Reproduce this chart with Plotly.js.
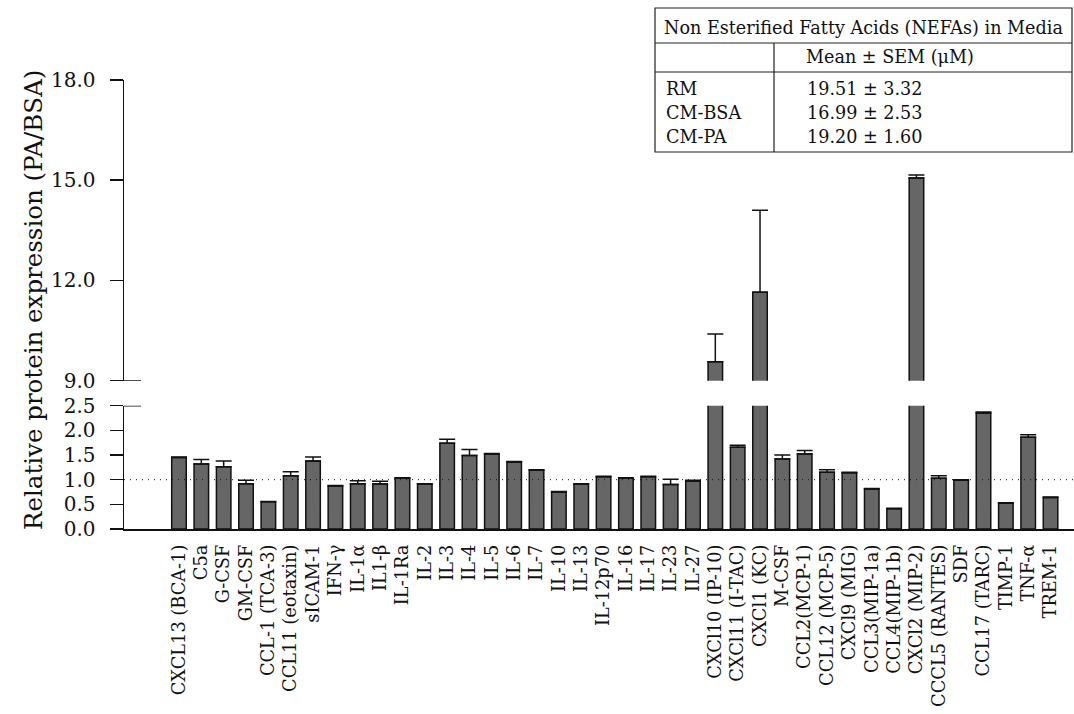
<!DOCTYPE html>
<html><head><meta charset="utf-8">
<script src="https://cdn.plot.ly/plotly-3.0.1.min.js"></script>
<style>html,body{margin:0;padding:0;background:#fff}#chart{width:1074px;height:714px}</style>
</head><body><div id="chart"></div>
<script>
const categories = ['CXCL13 (BCA-1)','C5a','G-CSF','GM-CSF','CCL-1 (TCA-3)','CCL11 (eotaxin)','sICAM-1','IFN-γ','IL-1α','IL1-β','IL-1Ra','IL-2','IL-3','IL-4','IL-5','IL-6','IL-7','IL-10','IL-13','IL-12p70','IL-16','IL-17','IL-23','IL-27','CXCl10 (IP-10)','CXCl11 (I-TAC)','CXCl1 (KC)','M-CSF','CCL2(MCP-1)','CCL12 (MCP-5)','CXCl9 (MIG)','CCL3(MIP-1a)','CCL4(MIP-1b)','CXCl2 (MIP-2)','CCCL5 (RANTES)','SDF','CCL17 (TARC)','TIMP-1','TNF-α','TREM-1'];
const values = [1.45,1.32,1.26,0.92,0.55,1.08,1.38,0.87,0.92,0.91,1.03,0.91,1.74,1.49,1.52,1.36,1.19,0.75,0.91,1.06,1.03,1.06,0.90,0.97,9.57,1.66,11.65,1.42,1.52,1.15,1.14,0.81,0.41,15.07,1.03,0.99,2.35,0.52,1.86,0.64];
const errors = [0.01,0.09,0.12,0.07,0.01,0.08,0.08,0.01,0.06,0.06,0.01,0.01,0.08,0.12,0.01,0.01,0.01,0.01,0.01,0.01,0.01,0.01,0.11,0.02,0.83,0.04,2.45,0.08,0.07,0.05,0.01,0.01,0.01,0.09,0.05,0.01,0.02,0.01,0.05,0.01];
const lowerTicks = [0, 0.5, 1, 1.5, 2, 2.5];
const upperTicks = [9, 12, 15, 18];
const lowerRange = [0, 2.5];
const upperRange = [9, 18];
const referenceLevel = 1;
const yTitle = 'Relative protein expression (PA/BSA)';
const tableTitle = 'Non Esterified Fatty Acids (NEFAs) in Media';
const tableHeader = 'Mean ± SEM (μM)';
const tableGroups = ['RM', 'CM-BSA', 'CM-PA'];
const tableValues = ['19.51 ± 3.32', '16.99 ± 2.53', '19.20 ± 1.60'];

const FONT = 'DejaVu Serif, Georgia, serif';
const INK = '#111';
const TXT = '#111';
// pixel -> paper helpers (plot area: x 124..1074, y 80..529)
const L = 124, R = 1074, T = 80, B = 529;
const fx = p => (p - L) / (R - L);
const fy = p => (B - p) / (B - T);

const zeros = errors.map(() => 0);
const barCommon = {
  type: 'bar', x: categories, y: values, width: 0.65,
  marker: {color: '#666666', line: {color: INK, width: 1.5}},
  error_y: {type: 'data', symmetric: false, array: errors, arrayminus: zeros,
            color: INK, thickness: 1.5, width: 8},
  hoverinfo: 'x+y', showlegend: false
};
const traces = [
  Object.assign({}, barCommon, {xaxis: 'x', yaxis: 'y'}),
  Object.assign({}, barCommon, {xaxis: 'x', yaxis: 'y2'})
];

const axisStyle = {
  showline: true, linecolor: INK, linewidth: 1.5,
  ticks: 'outside', ticklen: 13, tickwidth: 1.5, tickcolor: INK,
  showgrid: false, zeroline: false, tickformat: '.1f',
  tickfont: {family: FONT, size: 20, color: TXT}, ticklabelstandoff: 10,
  fixedrange: true
};

const shapes = [
  {type: 'line', xref: 'paper', x0: 0, x1: 1, yref: 'y', y0: referenceLevel, y1: referenceLevel,
   line: {color: INK, width: 1, dash: '1px,5px'}, layer: 'above'},
  {type: 'line', xref: 'paper', x0: 0, x1: fx(141), yref: 'y2', y0: upperRange[0], y1: upperRange[0],
   line: {color: INK, width: 1.5}},
  {type: 'line', xref: 'paper', x0: 0, x1: fx(141), yref: 'y', y0: lowerRange[1], y1: lowerRange[1],
   line: {color: INK, width: 1.5}},
  // table frame
  {type: 'rect', xref: 'paper', yref: 'paper', x0: fx(655), x1: fx(1072), y0: fy(152), y1: fy(8),
   line: {color: '#222', width: 1.2}},
  {type: 'line', xref: 'paper', yref: 'paper', x0: fx(655), x1: fx(1072), y0: fy(43), y1: fy(43),
   line: {color: '#222', width: 1.2}},
  {type: 'line', xref: 'paper', yref: 'paper', x0: fx(655), x1: fx(1072), y0: fy(72), y1: fy(72),
   line: {color: '#222', width: 1.2}},
  {type: 'line', xref: 'paper', yref: 'paper', x0: fx(774), x1: fx(774), y0: fy(43), y1: fy(152),
   line: {color: '#222', width: 1.2}}
];

const tfont = {family: FONT, size: 17.6, color: TXT};
const annotations = [
  {text: yTitle, xref: 'paper', yref: 'paper', x: fx(33), y: fy(300), textangle: -90,
   showarrow: false, xanchor: 'center', yanchor: 'middle', font: {family: FONT, size: 24.5, color: TXT}},
  {text: tableTitle, xref: 'paper', yref: 'paper', x: fx(662), y: fy(27.5), showarrow: false,
   xanchor: 'left', yanchor: 'middle', font: tfont},
  {text: tableHeader, xref: 'paper', yref: 'paper', x: fx(890), y: fy(57), showarrow: false,
   xanchor: 'center', yanchor: 'middle', font: tfont}
];
const rowY = [89, 113, 136.5];
tableGroups.forEach((g, i) => {
  annotations.push({text: g, xref: 'paper', yref: 'paper', x: fx(664), y: fy(rowY[i]), showarrow: false,
    xanchor: 'left', yanchor: 'middle', font: tfont});
  annotations.push({text: tableValues[i], xref: 'paper', yref: 'paper', x: fx(864), y: fy(rowY[i]), showarrow: false,
    xanchor: 'center', yanchor: 'middle', font: tfont});
});

const layout = {
  width: 1074, height: 714,
  margin: {l: L, r: 1074 - R, t: T, b: 714 - B, pad: 0},
  paper_bgcolor: '#fff', plot_bgcolor: 'rgba(0,0,0,0)',
  font: {family: FONT, color: TXT},
  bargap: 0.35,
  xaxis: {type: 'category', range: [-2.46, 40.05], anchor: 'y', showline: true, linecolor: INK, linewidth: 1.5,
          ticks: '', tickangle: -90, tickfont: {family: FONT, size: 17.8, color: TXT},
          ticklabelstandoff: 7, showgrid: false, zeroline: false, fixedrange: true},
  yaxis: Object.assign({}, axisStyle, {domain: [0, fy(405.7)], range: lowerRange, tickvals: lowerTicks, anchor: 'x'}),
  yaxis2: Object.assign({}, axisStyle, {domain: [fy(380.7), 1], range: upperRange, tickvals: upperTicks, anchor: 'x'}),
  shapes: shapes,
  annotations: annotations
};

Plotly.newPlot('chart', traces, layout, {displayModeBar: false, staticPlot: true});
</script></body></html>
